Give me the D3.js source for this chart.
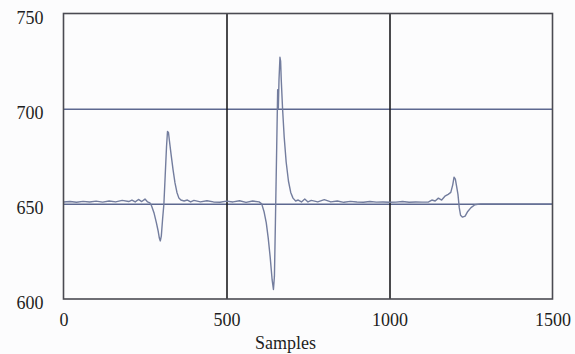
<!DOCTYPE html>
<html>
<head>
<meta charset="utf-8">
<script src="https://cdn.jsdelivr.net/npm/d3@7"></script>
<style>
  html, body { margin: 0; padding: 0; background: #fcfcfd; }
  text { font-family: "Liberation Serif", "DejaVu Serif", serif; fill: #1e1e22; }
</style>
</head>
<body>
<div id="chart"></div>
<script>
// sample index / amplitude
const samples = [0, 20, 40, 60, 80, 100, 120, 140, 160, 180, 200, 210, 220, 230, 240, 250, 258, 265,
  270, 278, 285, 290, 294, 297, 300, 304, 308, 312, 316, 319, 322, 325, 330, 336, 342, 348, 354, 360,
  370, 380, 390, 400, 420, 440, 460, 480, 500, 520, 540, 560, 580, 600, 608, 615, 622, 628, 634, 640,
  644, 647, 650, 654, 657, 659, 661, 664, 666, 668, 672, 677, 683, 690, 697, 704, 712, 720, 730, 740,
  750, 760, 780, 800, 820, 840, 860, 880, 900, 920, 940, 960, 980, 1000, 1020, 1040, 1060, 1080, 1100,
  1120, 1130, 1140, 1150, 1160, 1170, 1180, 1188, 1194, 1198, 1202, 1206, 1210, 1214, 1218, 1224, 1232,
  1240, 1250, 1262, 1280, 1300, 1350, 1400, 1450, 1500];
const signal = [651, 651.2, 650.8, 651.3, 651, 651.4, 650.9, 651.5, 651, 651.8, 651.2, 652, 651, 652.3, 651.2, 652.5, 651, 650.5,
  649, 645, 640, 636, 632, 630.5, 633, 642, 650, 665, 680, 688, 687.5, 683, 676, 668, 661, 656, 653, 652,
  651.5, 652, 651, 651.8, 651, 651.6, 651, 650.8, 651.4, 651, 651.6, 650.8, 651.5, 651, 650, 646, 640, 632, 622, 610,
  605, 612, 640, 680, 710, 700, 715, 727, 725, 715, 700, 685, 672, 662, 656, 653, 651.5, 652, 651, 652.5,
  651, 651.8, 651, 652.2, 651, 651.5, 650.8, 651.3, 651, 650.8, 651.2, 650.9, 651, 650.8, 650.9, 651.2, 650.8, 651, 650.9,
  651, 652, 651.5, 653, 652, 654, 655, 656, 660, 664, 663, 659, 655, 648, 644, 643, 643.5,
  646, 648, 649.5, 650, 650, 650, 650, 650, 650];

const xTicks = [0, 500, 1000, 1500];
const yTicks = [600, 650, 700, 750];
const xTitle = "Samples";

const W = 575, H = 354;
const margin = { top: 13.5, right: 22.5, bottom: 55, left: 63.5 };
const width = W - margin.left - margin.right;
const height = H - margin.top - margin.bottom;

const svg = d3.select("#chart").append("svg")
  .attr("width", W).attr("height", H);
const g = svg.append("g")
  .attr("transform", "translate(" + margin.left + "," + margin.top + ")");

const x = d3.scaleLinear().domain([0, 1500]).range([0, width]);
const y = d3.scaleLinear().domain([600, 750]).range([height, 0]);

// horizontal grid (blue-grey)
const yGrid = g.append("g").call(d3.axisLeft(y).tickValues([650, 700]).tickSize(-width).tickFormat(""));
yGrid.select(".domain").remove();
yGrid.selectAll("line").attr("stroke", "#5d6890").attr("stroke-width", 1.5);

// vertical grid (dark)
const xGrid = g.append("g").attr("transform", "translate(0," + height + ")")
  .call(d3.axisBottom(x).tickValues([500, 1000]).tickSize(-height).tickFormat(""));
xGrid.select(".domain").remove();
xGrid.selectAll("line").attr("stroke", "#1c1c20").attr("stroke-width", 1.6);

// trace
const line = d3.line()
  .x((d, i) => x(samples[i]))
  .y(d => y(d));
g.append("path")
  .datum(signal)
  .attr("fill", "none")
  .attr("stroke", "#737d9e")
  .attr("stroke-width", 1.4)
  .attr("stroke-linejoin", "round")
  .attr("d", line);

// frame
g.append("rect")
  .attr("width", width).attr("height", height)
  .attr("fill", "none").attr("stroke", "#4a4a52").attr("stroke-width", 1.6);

// tick labels
const yAxis = g.append("g")
  .call(d3.axisLeft(y).tickValues(yTicks).tickFormat(d3.format("d")).tickSize(0).tickPadding(20))
  .attr("font-family", null).attr("font-size", 18);
yAxis.select(".domain").remove();
yAxis.selectAll("text").attr("dy", "0.65em").attr("y", -2);

const xAxis = g.append("g").attr("transform", "translate(0," + height + ")")
  .call(d3.axisBottom(x).tickValues(xTicks).tickFormat(d3.format("d")).tickSize(0).tickPadding(14))
  .attr("font-family", null).attr("font-size", 18);
xAxis.select(".domain").remove();

g.append("text")
  .attr("x", 222).attr("y", height + 50)
  .attr("text-anchor", "middle")
  .attr("font-size", 18)
  .text(xTitle);
</script>
</body>
</html>
